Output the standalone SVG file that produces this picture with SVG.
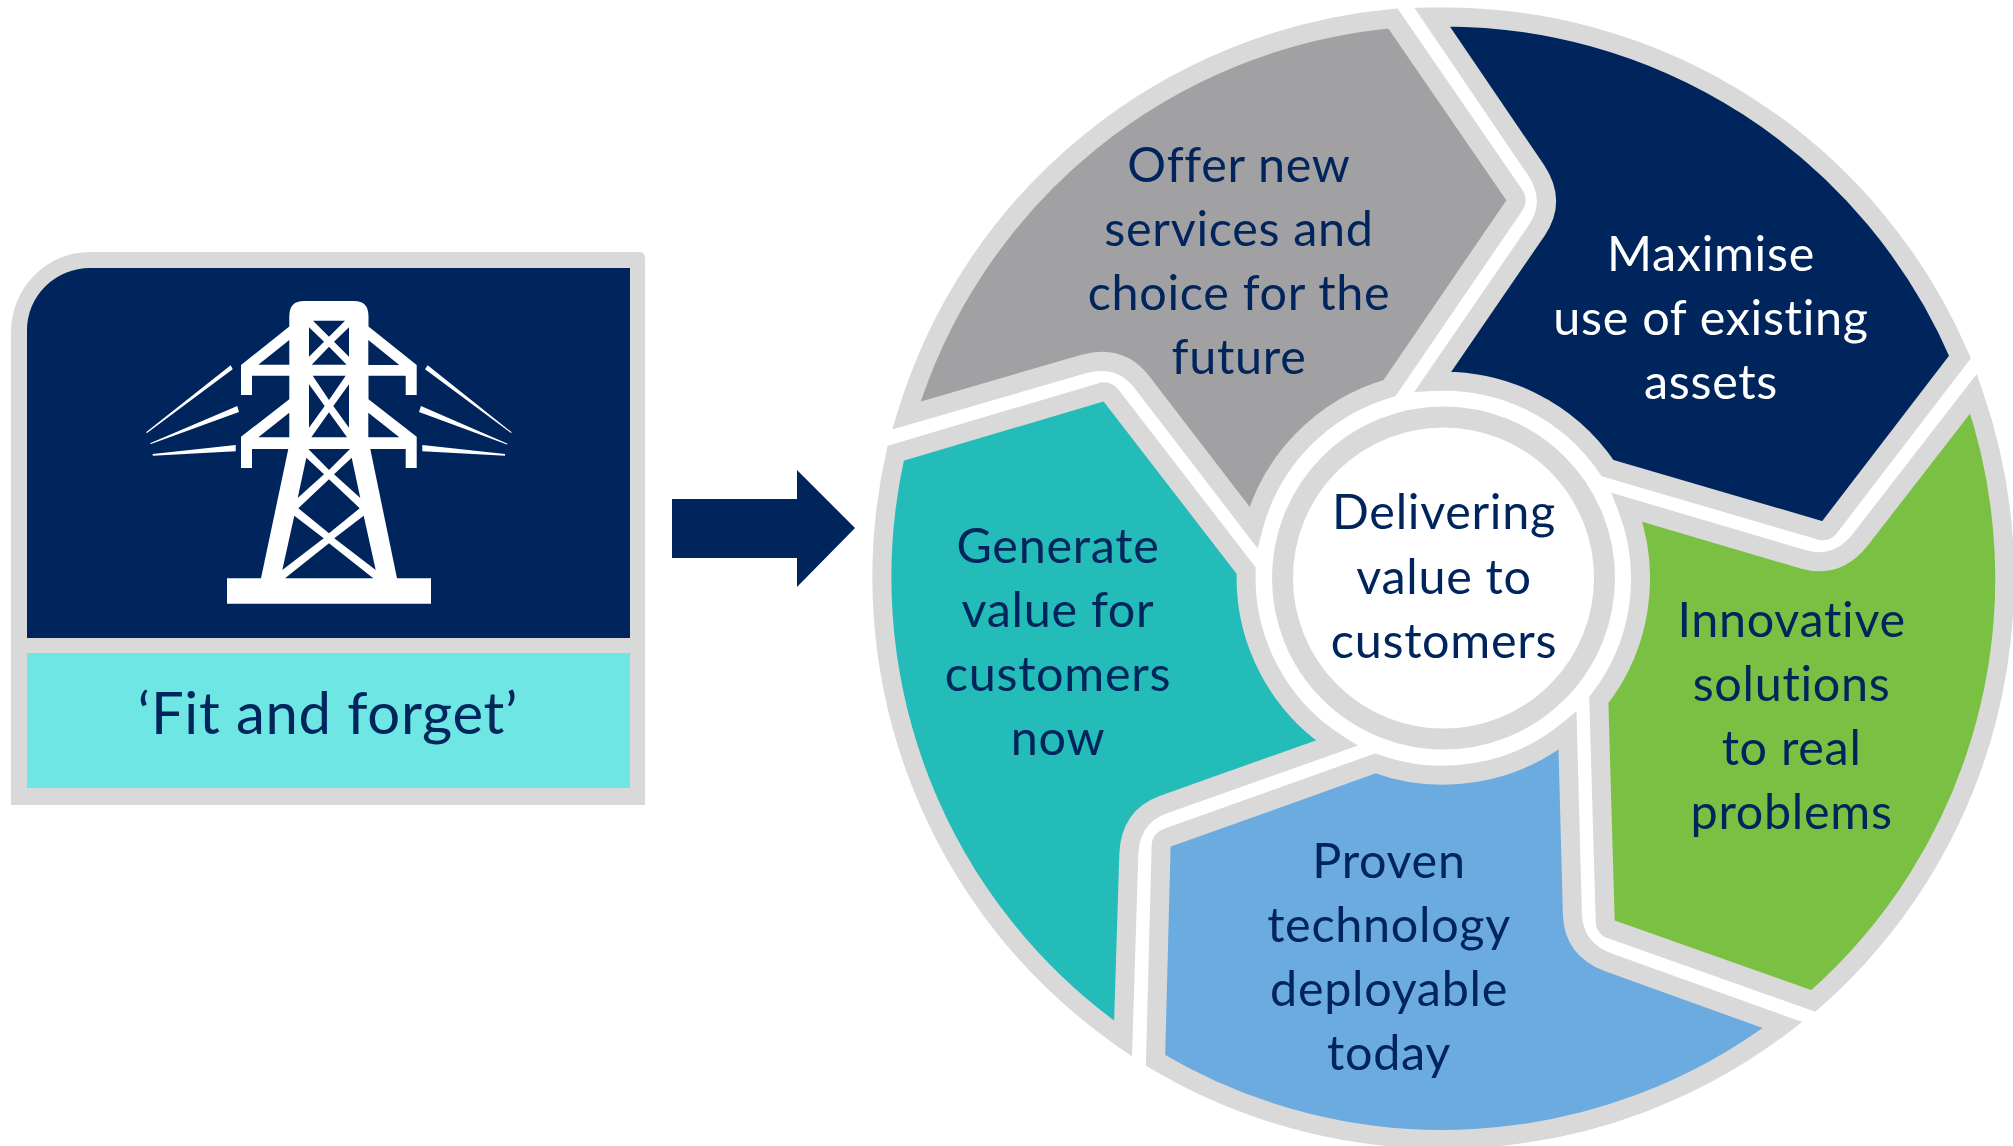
<svg xmlns="http://www.w3.org/2000/svg" xmlns:xlink="http://www.w3.org/1999/xlink" width="2013" height="1146" viewBox="0 0 2013 1146">
<style>
text{font-family:"Lato","Carlito","Open Sans",sans-serif;font-size:48.5px;letter-spacing:.7px;fill:#00245C;text-anchor:middle}
.seg{stroke:#D9D9D9;stroke-width:19;stroke-miterlimit:12;stroke-linejoin:miter}
.w{fill:#fff}
</style>
<defs>
<path id="segment" d="M1432,17 A562,562 0 0 1 1960,357 L1830,526.5 Q1826,532.5 1819,530 L1607.5,468 A197,197 0 0 0 1433,381.5 L1537,230 Q1556.5,201 1536,170 Z"/>
</defs>
<rect width="2013" height="1146" fill="#fff"/>
<g id="fit-and-forget">
<path d="M90,252 H639 Q645,252 645,258 V805 H11 V332 A79,80 0 0 1 90,252 Z" fill="#D9D9D9"/>
<path d="M90,268 H630 V638 H27 V330 A63,62 0 0 1 90,268 Z" fill="#00245C"/>
<rect x="27" y="653" width="603" height="135" fill="#6EE6E3"/>
<g class="w">
<path fill-rule="evenodd" d="M304,301 H354 Q368.5,301 368.5,316 V326.5 L416.7,365 V395 H405.7 V375.7 H368.5 V399.3 L416.7,436.7 V468 H405.7 V449 H370.3 L397,578.3 H431 V603.7 H227 V578.3 H261 L288.3,449 H252 V468 H241 V436.7 L289.3,399.3 V375.7 H252 V395 H241 V365 L289.3,326.5 V316 Q289.3,301 304,301 Z
M368.3,340 L399.3,365 H368.3 Z M368.3,412.7 L399.3,437.3 H368.3 Z M289.3,340 L258.3,364.7 H289.3 Z M289.3,412.7 L258.3,437.3 H289.3 Z
M313,320.7 H345 L329,336.7 Z M309,327.3 V356.7 L324,341.7 Z M349,327.3 V356.7 L334,341.7 Z M311.7,364.7 H346.7 L329,346.7 Z
M312.7,375.7 H345.7 L329,400 Z M309,384.3 V427.7 L324.7,406 Z M349,384.3 V427.7 L333.3,406 Z M311.3,437.3 H347 L329,412.3 Z
M308.3,449 H350 L329,470 Z M306.3,457.7 L297.7,498 L324,474.3 Z M351.7,457.7 L360.3,498 L334,474.3 Z M329,479.3 L359.7,508.3 L329,533.3 L298.3,508.3 Z
M294.3,515.7 L323.7,538.3 L282.3,570 Z M363.7,515.7 L334.3,538.3 L375.7,570 Z M329,543.3 L373.3,578.3 H285 Z"/>
<path d="M146,432.3 L230.7,365.3 L232.7,369.3 L147,433 Z M150,443.3 L237.3,406 L239,412 L151,444 Z M152.7,454 L235.7,445 V451.3 L152.7,455.7 Z"/>
<path d="M511.7,432.3 L427.7,365.3 L425,369.3 L511,433 Z M507.7,443.7 L421,406 L419,412 L507,444.5 Z M505,454 L422.3,445 V451.3 L505,455.7 Z"/>
</g>
<text x="328" y="734" style="font-size:58px">‘Fit and forget’</text>
</g>
<g id="connectors">
<path d="M672,499 H797 V470 L855,528 L797,587 V558 H672 Z" fill="#00245C"/>
</g>
<g id="maximise">
<use href="#segment" class="seg" fill="#00245C"/>
<text style="fill:#fff"><tspan x="1711" y="271">Maximise</tspan><tspan x="1711" y="335">use of existing</tspan><tspan x="1711" y="399">assets</tspan></text>
</g>
<g id="innovative">
<use href="#segment" class="seg" fill="#7AC143" transform="rotate(72 1443.5 578)"/>
<text><tspan x="1791.6" y="637">Innovative</tspan><tspan x="1791.6" y="701">solutions</tspan><tspan x="1791.6" y="765">to real</tspan><tspan x="1791.6" y="829">problems</tspan></text>
</g>
<g id="proven">
<use href="#segment" class="seg" fill="#6BABDF" transform="rotate(144 1443.5 578)"/>
<text><tspan x="1389" y="878">Proven</tspan><tspan x="1389" y="942">technology</tspan><tspan x="1389" y="1006">deployable</tspan><tspan x="1389" y="1070">today</tspan></text>
</g>
<g id="generate">
<use href="#segment" class="seg" fill="#23BCB8" transform="rotate(216 1443.5 578)"/>
<text><tspan x="1058" y="563">Generate</tspan><tspan x="1058" y="627">value for</tspan><tspan x="1058" y="691">customers</tspan><tspan x="1058" y="755">now</tspan></text>
</g>
<g id="offer">
<use href="#segment" class="seg" fill="#A1A1A3" transform="rotate(288 1443.5 578)"/>
<text><tspan x="1239" y="182">Offer new</tspan><tspan x="1239" y="246">services and</tspan><tspan x="1239" y="310">choice for the</tspan><tspan x="1239" y="374">future</tspan></text>
</g>
<g id="centre">
<circle cx="1443.5" cy="578" r="161" fill="#fff" stroke="#D9D9D9" stroke-width="21"/>
<text><tspan x="1444" y="529">Delivering</tspan><tspan x="1444" y="594">value to</tspan><tspan x="1444" y="658">customers</tspan></text>
</g>
</svg>
